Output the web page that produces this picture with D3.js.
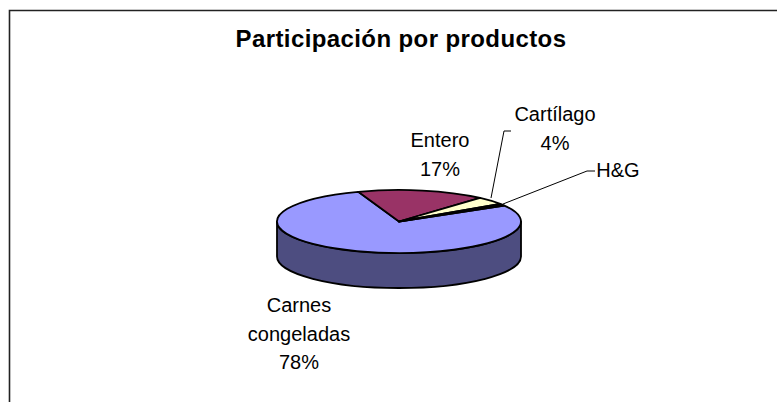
<!DOCTYPE html>
<html><head><meta charset="utf-8">
<script src="https://cdn.jsdelivr.net/npm/d3@7"></script>
<style>html,body{margin:0;padding:0;background:#fff}svg{display:block}</style>
</head><body>
<svg id="c" width="777" height="402"></svg>
<script>
const categories = ["Carnes congeladas", "Entero", "Cartílago", "H&G"];
const values = [78, 17, 4, 1];
const colors = ["#9999ff", "#993366", "#ffffcc", "#000000"];
const titleText = "Participación por productos";
const svg = d3.select("#c");
const cx = 399, cy = 221.5, rx = 122, ry = 31.5, depth = 35;
const deg = Math.PI / 180;
const font = "'Liberation Sans', Arial, sans-serif";

svg.append("path").attr("d", "M9.5,402V10.5H777").attr("fill", "none").attr("stroke", "#222").attr("stroke-width", 1.6);

svg.append("text").attr("x", 401).attr("y", 47).attr("text-anchor", "middle")
  .attr("font-family", font).attr("font-weight", "bold").attr("font-size", 24).attr("letter-spacing", 0.4).attr("fill", "#000").text(titleText);

svg.append("path")
  .attr("d", `M${cx - rx},${cy}V${cy + depth}A${rx},${ry} 0 0 0 ${cx + rx},${cy + depth}V${cy}A${rx},${ry} 0 0 1 ${cx - rx},${cy}Z`)
  .attr("fill", "#4d4d80").attr("stroke", "#000").attr("stroke-width", 1.8).attr("stroke-linejoin", "round");

const order = [1, 2, 3, 0];
const pie = d3.pie().sort((a, b) => order.indexOf(a) - order.indexOf(b)).value(i => values[i])
  .startAngle(-19.5 * deg).endAngle(340.5 * deg);
const arc = d3.arc().innerRadius(0).outerRadius(1);
svg.append("g").attr("transform", `translate(${cx},${cy}) scale(${rx},${ry})`)
  .selectAll("path").data(pie(d3.range(values.length))).join("path")
  .attr("d", arc).attr("fill", d => colors[d.data])
  .attr("stroke", "#000").attr("stroke-width", 1.8).attr("vector-effect", "non-scaling-stroke").attr("stroke-linejoin", "round");

const leaders = ["M491,198L504,131H511", "M503,204L587,171H595"];
svg.selectAll("path.l").data(leaders).join("path").attr("class", "l").attr("d", d => d)
  .attr("fill", "none").attr("stroke", "#000").attr("stroke-width", 1);

const pct = values.map(v => v + "%");
const labels = [
  {lines: ["Carnes", "congeladas", pct[0]], x: 299, y: 312, dy: 28.5},
  {lines: ["Entero", pct[1]], x: 440, y: 147, dy: 28.5},
  {lines: ["Cartílago", pct[2]], x: 555, y: 121, dy: 29},
  {lines: ["H&G"], x: 618, y: 177, dy: 0}
];
labels.forEach(l => {
  const t = svg.append("text").attr("text-anchor", "middle").attr("font-family", font).attr("font-size", 20).attr("letter-spacing", 0).attr("fill", "#000");
  l.lines.forEach((s, i) => t.append("tspan").attr("x", l.x).attr("y", l.y + i * l.dy).text(s));
});
</script></body></html>
